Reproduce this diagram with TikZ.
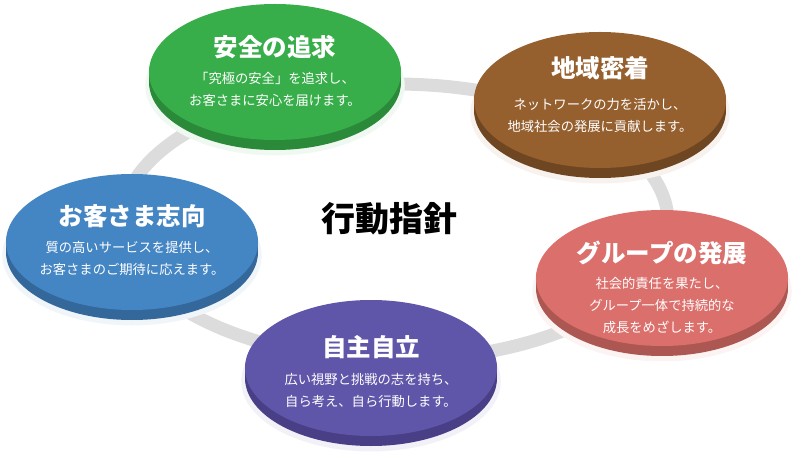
\documentclass[tikz,border=0pt]{standalone}
\usepackage{fontspec}
\setmainfont{Noto Sans CJK JP}
\usetikzlibrary{shapes.geometric,shadows}

\definecolor{ringgray}{HTML}{DCDCDC}
\definecolor{anzen}{HTML}{37AE4A}
\definecolor{anzendk}{HTML}{2B8A3A}
\definecolor{chiiki}{HTML}{955F2E}
\definecolor{chiikidk}{HTML}{6F4622}
\definecolor{kyaku}{HTML}{4485C4}
\definecolor{kyakudk}{HTML}{34679A}
\definecolor{group}{HTML}{DB6F6B}
\definecolor{groupdk}{HTML}{AD5752}
\definecolor{jishu}{HTML}{5F55A9}
\definecolor{jishudk}{HTML}{483F86}

\begin{document}
\begin{tikzpicture}[
    x=1pt, y=-1pt,
    ring/.style={ellipse, draw=ringgray, line width=13pt, minimum width=546pt, minimum height=276pt, inner sep=0pt},
    disc/.style 2 args={ellipse, minimum width=252pt, minimum height=136pt, inner sep=0pt, fill=#1,
      general shadow={fill=#1!8, shadow scale=1.03, shadow yshift=-13pt},
      general shadow={fill=#2, shadow yshift=-10pt},
      general shadow={fill=#2, shadow yshift=-7pt},
      general shadow={fill=#2, shadow yshift=-4pt},
      general shadow={fill=#2, shadow yshift=-2pt}},
    ttl/.style={text=white, font=\bfseries\fontsize{24.5}{28}\selectfont},
    sub/.style={text=white, align=center, font=\fontsize{13.3}{22}\selectfont},
    motto/.style={font=\bfseries\fontsize{34}{40}\selectfont}
  ]
    \useasboundingbox (0,0) rectangle (792,470);

    \node[ring] (ring) at (395,222) {};

    \node[disc={anzen}{anzendk}] (anzen) at (275,72) {};
    \node[disc={chiiki}{chiikidk}] (chiiki) at (600,100) {};
    \node[disc={kyaku}{kyakudk}] (kyaku) at (132,242) {};
    \node[disc={group}{groupdk}] (group) at (662,278) {};
    \node[disc={jishu}{jishudk}] (jishu) at (371,368) {};

    % titles and texts
    \node[ttl] (anzen-t) at ([yshift=25pt]anzen.center) {安全の追求};
    \node[sub] (anzen-s) at ([yshift=-17pt]anzen.center) {「究極の安全」を追求し、\\お客さまに安心を届けます。};
    \node[ttl] (chiiki-t) at ([yshift=32pt]chiiki.center) {地域密着};
    \node[sub] (chiiki-s) at ([yshift=-15pt]chiiki.center) {ネットワークの力を活かし、\\地域社会の発展に貢献します。};
    \node[ttl] (kyaku-t) at ([yshift=26pt]kyaku.center) {お客さま志向};
    \node[sub] (kyaku-s) at ([yshift=-16pt]kyaku.center) {質の高いサービスを提供し、\\お客さまのご期待に応えます。};
    \node[ttl] (group-t) at ([yshift=25pt]group.center) {グループの発展};
    \node[sub] (group-s) at ([yshift=-27pt]group.center) {社会的責任を果たし、\\グループ一体で持続的な\\成長をめざします。};
    \node[ttl] (jishu-t) at ([yshift=21pt]jishu.center) {自主自立};
    \node[sub] (jishu-s) at ([yshift=-22pt]jishu.center) {広い視野と挑戦の志を持ち、\\自ら考え、自ら行動します。};

    \node[motto] (motto) at (389,219) {行動指針};
\end{tikzpicture}
\end{document}
